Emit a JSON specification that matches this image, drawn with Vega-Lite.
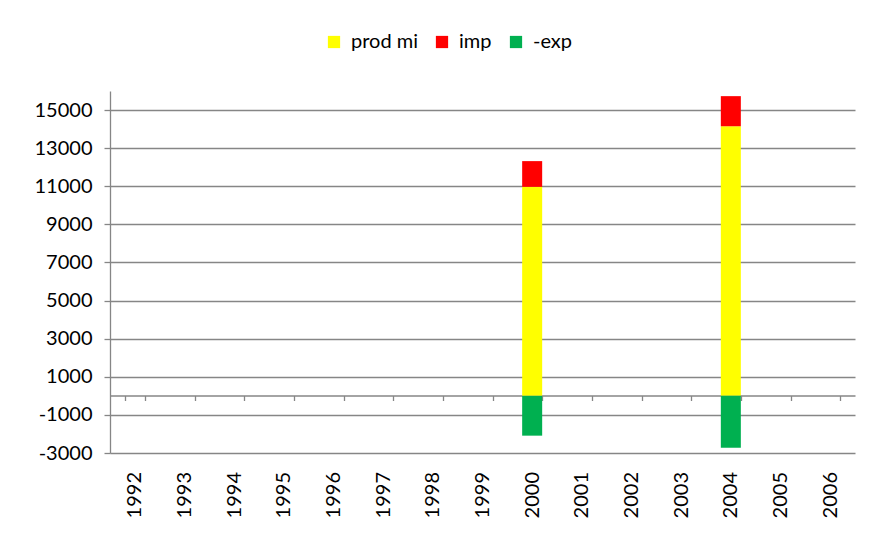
{
  "$schema": "https://vega.github.io/schema/vega-lite/v6.json",
  "width": 745,
  "height": 362,
  "autosize": {"type": "none"},
  "padding": {"left": 110, "top": 91, "right": 26, "bottom": 84},
  "background": "white",
  "config": {
    "view": {"stroke": null},
    "font": "Lato",
    "axis": {"labelFont": "Lato", "labelFontSize": 20, "labelColor": "#000000"},
    "legend": {"labelFont": "Lato", "labelFontSize": 20, "labelColor": "#000000"}
  },
  "data": {
    "values": [
      {"year": "2000", "series": "prod mi", "value": 10970},
      {"year": "2000", "series": "imp", "value": 1350},
      {"year": "2000", "series": "-exp", "value": -2090},
      {"year": "2004", "series": "prod mi", "value": 14150},
      {"year": "2004", "series": "imp", "value": 1580},
      {"year": "2004", "series": "-exp", "value": -2720}
    ]
  },
  "mark": {"type": "bar"},
  "encoding": {
    "x": {
      "field": "year",
      "type": "ordinal",
      "scale": {
        "domain": ["1992","1993","1994","1995","1996","1997","1998","1999","2000","2001","2002","2003","2004","2005","2006"],
        "paddingInner": 0.597,
        "paddingOuter": 0.2985
      },
      "axis": {
        "title": null,
        "offset": -57.5,
        "labelAngle": 270,
        "labelAlign": "right",
        "labelBaseline": "middle",
        "labelPadding": 71,
        "ticks": true,
        "tickBand": "extent",
        "tickSize": 5,
        "tickColor": "#868686",
        "domainColor": "#868686",
        "domainWidth": 1.3,
        "tickWidth": 1.3,
        "grid": false
      }
    },
    "y": {
      "field": "value",
      "type": "quantitative",
      "stack": "zero",
      "scale": {"domain": [-3000, 16000], "nice": false, "zero": false},
      "axis": {
        "title": null,
        "values": [-3000, -1000, 1000, 3000, 5000, 7000, 9000, 11000, 13000, 15000],
        "labelExpr": "datum.value < 0 ? '-' + format(-datum.value, 'd') : format(datum.value, 'd')",
        "grid": true,
        "gridColor": "#868686",
        "gridWidth": 1.3,
        "domainColor": "#868686",
        "domainWidth": 1.3,
        "tickColor": "#868686",
        "tickWidth": 1.3,
        "tickSize": 6,
        "labelPadding": 12
      }
    },
    "color": {
      "field": "series",
      "type": "nominal",
      "scale": {"domain": ["prod mi", "imp", "-exp"], "range": ["#FFFF00", "#FF0000", "#00B050"]},
      "legend": {
        "title": null,
        "orient": "none",
        "direction": "horizontal",
        "legendX": 214,
        "legendY": -59,
        "symbolType": "square",
        "symbolSize": 150,
        "symbolStrokeWidth": 0,
        "labelOffset": 7,
        "columnPadding": 14
      }
    },
    "order": {"field": "series", "sort": "descending"}
  }
}
